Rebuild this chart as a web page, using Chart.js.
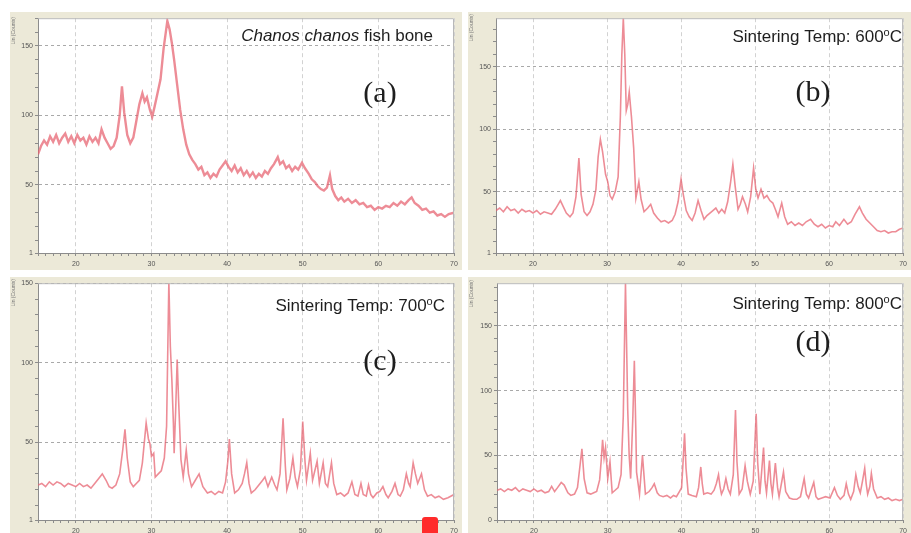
<!DOCTYPE html>
<html>
<head>
<meta charset="utf-8">
<script src="https://cdn.jsdelivr.net/npm/chart.js@4.4.0/dist/chart.umd.min.js"></script>
<style>
html, body { margin: 0; padding: 0; background: #fff; }
body { width: 911px; height: 533px; position: relative; overflow: hidden; }
canvas { position: absolute; }
#mark { position: absolute; left: 422px; top: 517px; width: 16px; height: 20px; background: #ff2b2b; border-radius: 3px; }
</style>
</head>
<body>
<canvas id="chartA" width="452" height="258" style="left:10px;top:12px"></canvas>
<canvas id="chartB" width="443" height="258" style="left:468px;top:12px"></canvas>
<canvas id="chartC" width="452" height="256" style="left:10px;top:277px"></canvas>
<canvas id="chartD" width="443" height="256" style="left:468px;top:277px"></canvas>
<div id="mark"></div>
<script>
// 2-theta (deg) and counts
var thetaA = [15.0,15.4,15.8,16.2,16.6,17.0,17.4,17.8,18.2,18.6,19.0,19.4,19.8,20.2,20.6,21.0,21.4,21.8,22.2,22.6,23.0,23.4,23.8,24.2,24.6,25.0,25.4,25.8,26.1,26.4,26.8,27.2,27.6,28.0,28.4,28.8,29.1,29.4,29.8,30.1,30.4,30.8,31.2,31.6,31.9,32.1,32.4,32.7,33.0,33.4,33.8,34.2,34.6,35.0,35.4,35.8,36.2,36.6,37.0,37.4,37.8,38.2,38.6,39.0,39.4,39.8,40.2,40.6,41.0,41.4,41.8,42.2,42.6,43.0,43.4,43.8,44.2,44.6,45.0,45.4,45.8,46.2,46.7,47.0,47.4,47.8,48.2,48.6,49.0,49.4,49.9,50.3,50.8,51.2,51.6,52.0,52.4,52.8,53.2,53.6,53.9,54.3,54.7,55.1,55.5,56.0,56.5,57.0,57.5,58.0,58.5,59.0,59.5,60.0,60.5,61.0,61.5,62.0,62.5,63.0,63.5,64.0,64.4,64.8,65.3,65.8,66.3,66.8,67.3,67.8,68.3,68.8,69.3,70.0];
var countsA = [72,78,82,79,85,81,86,80,84,87,81,85,80,86,82,84,79,85,81,84,80,90,84,80,76,78,84,100,121,102,86,80,84,96,108,116,110,113,104,99,106,116,126,148,160,168,162,152,140,122,104,90,79,72,68,65,61,63,57,59,55,58,56,61,64,67,63,60,64,59,62,57,60,56,59,55,58,56,60,58,62,65,70,65,67,62,64,60,63,61,66,62,58,54,52,49,47,46,48,57,47,42,39,41,38,40,37,39,36,37,34,35,32,34,33,35,34,37,35,38,36,39,41,37,35,32,33,30,31,28,29,27,29,30];

var thetaB = [15.0,15.5,16.0,16.5,17.0,17.5,18.0,18.5,19.0,19.5,20.0,20.5,21.0,21.5,22.0,22.5,23.0,23.4,23.7,24.1,24.5,25.0,25.4,25.8,26.2,26.5,26.9,27.3,27.7,28.1,28.5,28.8,29.1,29.4,29.8,30.1,30.4,30.7,31.1,31.5,31.8,32.0,32.2,32.4,32.6,32.8,33.0,33.3,33.6,33.9,34.3,34.6,35.0,35.5,35.9,36.3,36.8,37.3,37.8,38.3,38.8,39.2,39.6,40.0,40.3,40.7,41.1,41.5,41.9,42.3,42.7,43.1,43.5,43.9,44.3,44.7,45.1,45.5,45.9,46.3,46.7,47.0,47.3,47.7,48.0,48.3,48.7,49.0,49.4,49.8,50.1,50.4,50.8,51.2,51.6,52.0,52.4,52.8,53.1,53.6,54.0,54.4,54.9,55.4,55.9,56.4,56.9,57.5,58.0,58.5,59.0,59.5,60.0,60.5,60.9,61.4,62.0,62.5,63.0,63.5,64.1,64.5,65.0,65.5,66.0,66.5,67.0,67.5,68.0,68.5,69.0,69.5,70.0];
var countsB = [35,37,34,38,35,36,33,36,34,35,33,35,32,34,33,32,36,40,43,38,33,30,33,46,77,48,34,31,34,40,52,78,92,82,64,58,47,44,50,62,110,160,189,160,115,120,130,110,85,45,58,44,34,37,40,33,29,26,27,25,27,32,42,60,48,35,30,27,33,43,35,28,31,33,35,37,33,36,33,42,58,72,55,36,40,46,40,34,46,69,52,45,52,45,47,43,41,35,30,41,30,24,26,23,25,23,26,28,24,22,24,21,23,22,26,23,28,24,26,32,38,33,28,25,22,19,18,19,17,18,18,20,21];

var thetaC = [15.0,15.5,16.0,16.5,17.0,17.5,18.0,18.5,19.0,19.5,20.0,20.5,21.0,21.5,22.0,22.5,23.0,23.5,24.0,24.4,24.8,25.3,25.8,26.2,26.5,26.8,27.2,27.6,28.0,28.4,28.8,29.1,29.3,29.6,29.8,30.0,30.3,30.5,30.9,31.3,31.7,32.0,32.3,32.5,32.7,32.9,33.0,33.2,33.4,33.6,33.9,34.2,34.6,34.9,35.3,35.8,36.3,36.8,37.4,37.9,38.4,38.9,39.4,39.8,40.1,40.3,40.6,41.0,41.5,42.0,42.3,42.6,42.9,43.2,43.7,44.2,44.7,45.0,45.4,45.9,46.3,46.6,47.0,47.4,47.7,47.9,48.3,48.7,49.0,49.3,49.7,50.0,50.3,50.5,51.0,51.3,51.9,52.2,52.7,53.0,53.3,53.8,54.1,54.5,55.0,55.5,56.0,56.5,56.9,57.3,57.7,58.0,58.4,58.7,59.0,59.3,59.8,60.2,60.6,61.0,61.3,61.8,62.2,62.6,62.9,63.3,63.7,64.0,64.2,64.6,64.9,65.2,65.7,66.1,66.5,67.0,67.5,68.0,68.6,69.2,70.0];
var countsC = [23,24,22,25,23,25,24,22,24,23,22,24,22,23,21,24,27,30,26,22,21,23,30,45,58,40,25,22,24,26,37,52,62,52,49,41,43,28,30,32,40,60,151,110,89,62,43,70,102,75,39,28,45,30,22,26,30,22,18,19,17,19,18,25,38,52,30,18,20,24,30,37,24,18,20,23,26,28,22,28,23,20,30,65,35,20,27,40,28,22,33,63,38,26,43,26,38,24,37,24,22,37,24,17,18,16,18,25,17,16,24,17,16,23,17,15,18,19,22,17,15,19,24,17,16,20,30,24,22,37,30,24,30,20,16,17,15,16,14,15,17];

var thetaD = [15.0,15.5,16.0,16.5,17.0,17.5,18.0,18.5,19.0,19.5,20.0,20.5,21.0,21.5,22.0,22.4,22.8,23.2,23.7,24.1,24.6,25.0,25.5,25.9,26.2,26.5,26.8,27.2,27.7,28.1,28.5,28.9,29.1,29.3,29.5,29.7,30.0,30.3,30.6,31.0,31.4,31.8,32.1,32.4,32.6,32.7,32.9,33.1,33.4,33.6,33.8,33.9,34.3,34.7,35.1,35.6,36.0,36.3,36.7,37.0,37.5,38.0,38.5,38.9,39.3,39.7,40.0,40.2,40.4,40.6,40.9,41.4,42.0,42.3,42.6,42.8,43.0,43.5,44.0,44.4,44.7,45.0,45.2,45.4,45.7,46.0,46.3,46.6,47.0,47.3,47.5,47.8,48.2,48.6,48.9,49.3,49.7,50.1,50.3,50.6,51.1,51.3,51.5,51.9,52.1,52.3,52.7,53.0,53.2,53.8,54.1,54.6,55.1,55.6,56.1,56.6,56.9,57.2,57.9,58.2,58.5,59.0,59.5,60.1,60.7,61.1,61.5,62.0,62.3,62.6,62.9,63.3,63.6,63.9,64.2,64.5,64.8,65.0,65.2,65.5,65.7,66.0,66.5,67.0,67.5,68.0,68.5,69.0,69.5,70.0];
var countsD = [23,24,22,24,23,25,22,24,23,22,24,22,23,21,22,26,22,25,29,27,21,19,20,25,40,55,32,21,20,21,22,31,45,62,48,56,32,45,21,23,25,35,80,183,120,86,50,32,80,123,70,37,20,50,20,22,25,28,21,19,18,19,17,19,18,22,25,45,67,40,20,19,18,25,41,28,20,21,20,23,28,35,26,20,24,32,24,20,35,85,45,20,24,42,30,20,30,82,45,20,56,30,21,46,28,20,44,25,18,37,22,17,16,16,18,32,20,17,29,18,16,17,18,17,25,19,16,19,28,20,16,22,35,26,21,30,40,28,20,26,36,24,17,18,16,17,15,16,15,16];

var xTickLabels = [20, 30, 40, 50, 60, 70];

var panelText = {
  chartA: { runs: [{t: 'Chanos chanos', f: 'italic 17px "Liberation Sans"'}, {t: ' fish bone', f: '17px "Liberation Sans"'}],
            right: 423, base: 29, letter: '(a)', lx: 370, ly: 90, tx: 5, ty: 5 },
  chartB: { runs: [{t: 'Sintering Temp: 600', f: '17px "Liberation Sans"'}, {t: 'o', f: '11px "Liberation Sans"', dy: -6}, {t: 'C', f: '17px "Liberation Sans"'}],
            right: 434, base: 30, letter: '(b)', lx: 345, ly: 89, tx: 5, ty: 2 },
  chartC: { runs: [{t: 'Sintering Temp: 700', f: '17px "Liberation Sans"'}, {t: 'o', f: '11px "Liberation Sans"', dy: -6}, {t: 'C', f: '17px "Liberation Sans"'}],
            right: 435, base: 34, letter: '(c)', lx: 370, ly: 93, tx: 5, ty: 2 },
  chartD: { runs: [{t: 'Sintering Temp: 800', f: '17px "Liberation Sans"'}, {t: 'o', f: '11px "Liberation Sans"', dy: -6}, {t: 'C', f: '17px "Liberation Sans"'}],
            right: 434, base: 32, letter: '(d)', lx: 345, ly: 74, tx: 5, ty: 3 }
};

Chart.defaults.font.family = '"Liberation Sans", Arial, sans-serif';

var panelBg = {
  id: 'panelBg',
  beforeDraw: function (chart) {
    var ctx = chart.ctx, a = chart.chartArea;
    ctx.save();
    ctx.fillStyle = '#ece9d8';
    ctx.fillRect(0, 0, chart.width, chart.height);
    ctx.fillStyle = '#ffffff';
    ctx.fillRect(a.left, a.top, a.right - a.left, a.bottom - a.top);
    ctx.restore();
  },
  afterDraw: function (chart) {
    var ctx = chart.ctx, a = chart.chartArea;
    var o = panelText[chart.canvas.id];
    ctx.save();
    // frame on top and right
    ctx.strokeStyle = '#b8b8b8';
    ctx.lineWidth = 1;
    ctx.beginPath();
    ctx.moveTo(a.left, a.top + 0.5);
    ctx.lineTo(a.right - 0.5, a.top + 0.5);
    ctx.lineTo(a.right - 0.5, a.bottom);
    ctx.stroke();

    ctx.fillStyle = '#1e1e1e';
    ctx.textBaseline = 'alphabetic';
    var w = 0;
    o.runs.forEach(function (r) { ctx.font = r.f; w += ctx.measureText(r.t).width; });
    var x = o.right - w;
    o.runs.forEach(function (r) {
      ctx.font = r.f;
      ctx.fillText(r.t, x, o.base + (r.dy || 0));
      x += ctx.measureText(r.t).width;
    });
    ctx.font = '30px "Liberation Serif"';
    ctx.textAlign = 'center';
    ctx.fillText(o.letter, o.lx, o.ly);

    // tiny axis title
    ctx.translate(o.tx, o.ty);
    ctx.rotate(-Math.PI / 2);
    ctx.font = '5px "Liberation Sans"';
    ctx.fillStyle = '#777';
    ctx.textAlign = 'right';
    ctx.fillText('Lin (Counts)', 0, 0);
    ctx.restore();
  }
};

function toPoints(xs, ys) {
  return xs.map(function (x, i) { return {x: x, y: ys[i]}; });
}

function makeChart(id, theta, counts, cfg) {
  var xt = [];
  for (var v = 15; v <= 70; v++) xt.push(v);
  var yt = [cfg.ymin];
  for (var u = 10; u <= cfg.ymax; u += 10) yt.push(u);

  return new Chart(document.getElementById(id), {
    type: 'line',
    data: {
      datasets: [{
        data: toPoints(theta, counts),
        borderColor: 'rgba(230,95,110,0.72)',
        borderWidth: cfg.lw,
        pointRadius: 0,
        tension: 0
      }]
    },
    options: {
      responsive: false,
      animation: false,
      events: [],
      layout: { padding: { top: cfg.top, right: cfg.right, left: 0, bottom: 0 } },
      plugins: { legend: { display: false }, tooltip: { enabled: false } },
      scales: {
        x: {
          type: 'linear', min: 15, max: 70,
          afterBuildTicks: function (s) { s.ticks = xt.map(function (v) { return {value: v}; }); },
          afterFit: function (s) { s.height = cfg.xh; },
          ticks: {
            autoSkip: false, maxRotation: 0, padding: 4, color: '#555', font: { size: 7 },
            callback: function (v) { return xTickLabels.indexOf(v) >= 0 ? String(v) : ''; }
          },
          grid: {
            color: function (c) { return c.tick && c.tick.value % 10 === 0 ? '#d2d2d2' : 'rgba(0,0,0,0)'; },
            tickColor: '#8c8c8c', tickLength: 3
          },
          border: { color: '#8c8c8c', dash: [4, 3] }
        },
        y: {
          min: cfg.ymin, max: cfg.ymax,
          afterBuildTicks: function (s) { s.ticks = yt.map(function (v) { return {value: v}; }); },
          afterFit: function (s) { s.width = cfg.yw; },
          ticks: {
            autoSkip: false, padding: 2, color: '#555', font: { size: 7 },
            callback: function (v) { return (v === cfg.ymin || v % 50 === 0) ? String(v) : ''; }
          },
          grid: {
            color: function (c) { return c.tick && c.tick.value % 50 === 0 && c.tick.value > 0 ? '#a9a9a9' : 'rgba(0,0,0,0)'; },
            tickColor: '#8c8c8c', tickLength: 3
          },
          border: { color: '#8c8c8c', dash: [3, 3] }
        }
      }
    },
    plugins: [panelBg]
  });
}

makeChart('chartA', thetaA, countsA, { ymin: 1, ymax: 170, yw: 28, xh: 17, top: 3, right: 8, lw: 2.4 });
makeChart('chartB', thetaB, countsB, { ymin: 1, ymax: 189, yw: 28, xh: 17, top: 3, right: 0, lw: 1.6 });
makeChart('chartC', thetaC, countsC, { ymin: 1, ymax: 150, yw: 28, xh: 13, top: 3, right: 8, lw: 1.6 });
makeChart('chartD', thetaD, countsD, { ymin: 0, ymax: 183, yw: 29, xh: 13, top: 5, right: 0, lw: 1.6 });
</script>
</body>
</html>
